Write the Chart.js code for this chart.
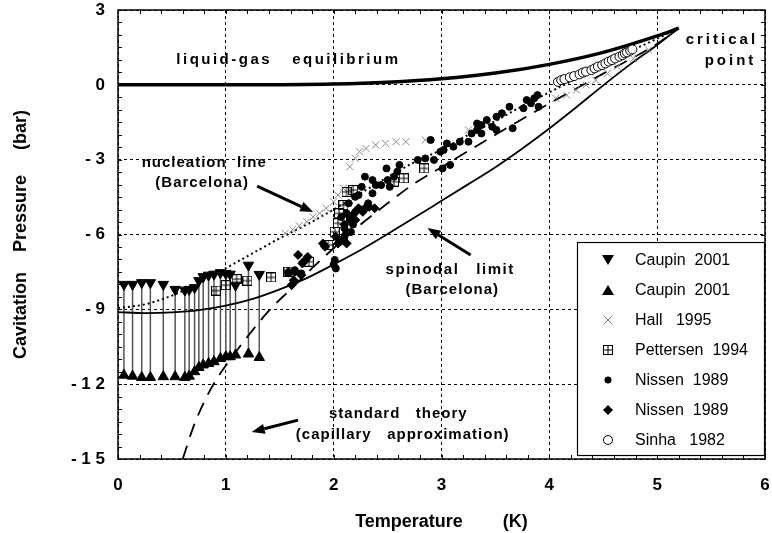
<!DOCTYPE html>
<html>
<head>
<meta charset="utf-8">
<script src="https://cdn.jsdelivr.net/npm/chart.js@4.4.0/dist/chart.umd.min.js"></script>
<style>
  html, body { margin: 0; padding: 0; background: #fff; }
</style>
</head>
<body>
<canvas id="cavitationChart" width="772" height="533"></canvas>
<script>
// axis ticks
const tempTicks = [0, 1, 2, 3, 4, 5, 6];
const pressTicks = [3, 0, -3, -6, -9, -12, -15];
const pressTickLabels = ['3', '0', '- 3', '- 6', '- 9', '- 1 2', '- 1 5'];

// curves
const eqT = [0, 0.5, 1.0, 1.5, 2.0, 2.5, 3.0, 3.5, 4.0, 4.5, 5.0, 5.2];
const eqP = [0, 0, 0.0002, 0.005, 0.031, 0.103, 0.24, 0.47, 0.82, 1.30, 1.96, 2.27];

const spinT = [0, 0.25, 0.5, 0.75, 1.0, 1.25, 1.5, 1.75, 2.0, 2.25, 2.5, 2.75, 3.0, 3.25, 3.5, 3.75, 4.0, 4.25, 4.5, 4.75, 5.0, 5.2];
const spinP = [-9.11, -9.15, -9.12, -9.03, -8.85, -8.58, -8.2, -7.75, -7.2, -6.62, -5.98, -5.32, -4.65, -3.98, -3.3, -2.55, -1.75, -0.9, -0.02, 0.82, 1.6, 2.27];

const nuclT = [0, 0.25, 0.5, 0.75, 1.0, 1.25, 1.5, 1.75, 2.0, 2.25, 2.5, 2.75, 3.0, 3.25, 3.5, 3.75, 4.0, 4.25, 4.5, 4.75, 5.0, 5.2];
const nuclP = [-8.95, -8.8, -8.45, -7.95, -7.35, -6.75, -6.15, -5.6, -5.0, -4.35, -3.7, -3.1, -2.6, -2.0, -1.45, -0.85, -0.3, 0.25, 0.8, 1.35, 1.85, 2.27];

const stdT = [0.6, 0.7, 0.8, 0.9, 1.0, 1.2, 1.4, 1.6, 1.8, 2.0, 2.25, 2.5, 2.75, 3.0, 3.5, 4.0, 4.5, 5.0, 5.2];
const stdP = [-15, -13.7, -12.7, -11.9, -11.25, -10.1, -9.05, -8.2, -7.35, -6.55, -5.6, -4.75, -3.95, -3.3, -2.0, -0.75, 0.45, 1.65, 2.27];

// Caupin 2001: upper (down triangles) and lower (up triangles) for each temperature
const caupinT = [0.055, 0.135, 0.22, 0.3, 0.42, 0.53, 0.62, 0.66, 0.71, 0.75, 0.79, 0.84, 0.89, 0.95, 1.0, 1.04, 1.09, 1.21, 1.31];
const caupinHigh = [-8.0, -8.0, -7.93, -7.93, -8.0, -8.2, -8.23, -8.2, -8.13, -7.85, -7.69, -7.63, -7.59, -7.53, -7.56, -7.59, -8.03, -7.23, -7.6];
const caupinLow = [-11.64, -11.68, -11.73, -11.73, -11.7, -11.7, -11.73, -11.68, -11.5, -11.33, -11.23, -11.17, -11.1, -10.97, -10.9, -10.9, -10.83, -10.79, -10.93];

const hallT = [1.55, 1.62, 1.68, 1.75, 1.81, 1.87, 1.93, 2.0, 2.04, 2.09, 2.15, 2.2, 2.24, 2.3, 2.39, 2.48, 2.58, 2.67, 2.85, 3.25, 4.06, 4.16, 4.25, 4.34, 4.43, 4.54, 4.63, 4.78, 4.92];
const hallP = [-5.95, -5.8, -5.65, -5.49, -5.29, -5.15, -4.95, -4.69, -4.42, -4.15, -3.28, -2.95, -2.68, -2.55, -2.41, -2.35, -2.28, -2.28, -2.21, -1.81, -0.54, -0.41, -0.21, 0.0, 0.19, 0.46, 0.73, 1.05, 1.4];

const pettT = [0.91, 1.0, 1.1, 1.2, 1.42, 1.58, 1.77, 1.95, 2.01, 2.04, 2.05, 2.09, 2.12, 2.18, 2.56, 2.65, 2.84];
const pettP = [-8.25, -8.03, -7.79, -7.85, -7.72, -7.49, -7.09, -6.42, -5.89, -5.55, -5.15, -4.82, -4.29, -4.22, -3.88, -3.75, -3.35];

const nissenCircT = [1.58, 1.64, 1.7, 2.0, 2.01, 2.02, 2.1, 2.1, 2.15, 2.12, 2.14, 2.2, 2.23, 2.32, 2.36, 2.39, 2.44, 2.29, 2.5, 2.52, 2.56, 2.49, 2.59, 2.61, 2.78, 2.85, 2.9, 2.93, 2.99, 3.01, 3.02, 3.05, 3.08, 3.11, 3.17, 3.25, 3.28, 3.33, 3.37, 3.37, 3.33, 3.42, 3.47, 3.51, 3.51, 3.56, 3.63, 3.66, 3.76, 3.79, 3.83, 3.86, 3.89, 3.9, 2.26, 2.36, 2.07, 2.16, 2.18, 2.2, 2.25];
const nissenCircP = [-7.56, -7.43, -7.56, -7.2, -7.02, -7.36, -6.09, -5.75, -5.42, -5.15, -4.75, -4.49, -4.42, -4.75, -4.35, -4.02, -4.02, -3.68, -3.82, -4.09, -3.68, -3.35, -3.48, -3.21, -3.01, -2.95, -2.21, -3.01, -2.68, -3.35, -2.61, -2.35, -3.21, -2.48, -2.28, -2.28, -1.95, -1.81, -1.61, -1.95, -1.55, -1.41, -1.68, -1.28, -1.81, -1.14, -0.88, -1.74, -0.94, -0.61, -0.74, -0.54, -0.41, -0.88, -4.09, -3.82, -5.3, -5.9, -5.6, -5.1, -5.0];

const nissenDiaT = [1.58, 1.61, 1.63, 1.64, 1.67, 1.7, 1.71, 1.74, 1.72, 1.76, 1.9, 1.92, 2.02, 2.04, 2.07, 2.09, 2.12, 2.12, 2.2, 2.23, 2.27, 2.29, 2.33, 2.38, 2.14, 2.18, 2.1];
const nissenDiaP = [-7.49, -8.03, -7.83, -7.49, -6.82, -7.63, -7.16, -7.02, -7.09, -6.9, -6.36, -6.49, -6.09, -6.36, -6.25, -6.22, -6.36, -5.95, -5.42, -4.95, -5.09, -4.95, -4.89, -4.95, -5.25, -5.2, -5.6];

const sinhaT = [4.08, 4.11, 4.14, 4.19, 4.23, 4.28, 4.31, 4.34, 4.39, 4.42, 4.45, 4.49, 4.52, 4.55, 4.58, 4.61, 4.65, 4.68, 4.70, 4.72, 4.75, 4.77];
const sinhaP = [0.12, 0.19, 0.23, 0.30, 0.35, 0.42, 0.49, 0.53, 0.59, 0.66, 0.73, 0.79, 0.86, 0.93, 0.99, 1.06, 1.13, 1.19, 1.26, 1.30, 1.37, 1.42];

const legendLabels = ['Caupin  2001', 'Caupin  2001', 'Hall   1995', 'Pettersen  1994', 'Nissen  1989', 'Nissen  1989', 'Sinha   1982'];

function pts(xs, ys) {
    return xs.map((x, i) => ({ x: x, y: ys[i] }));
}

// square with a cross inside, for Pettersen
function makeBoxCross(size) {
    const c = document.createElement('canvas');
    c.width = size; c.height = size;
    const g = c.getContext('2d');
    g.strokeStyle = '#000';
    g.lineWidth = 1;
    g.strokeRect(0.5, 0.5, size - 1, size - 1);
    g.beginPath();
    g.moveTo(size / 2, 0); g.lineTo(size / 2, size);
    g.moveTo(0, size / 2); g.lineTo(size, size / 2);
    g.stroke();
    return c;
}
const boxCross = makeBoxCross(10);

const FONT = "'Liberation Sans', Arial, sans-serif";

function drawSymbol(ctx, kind, x, y) {
    ctx.save();
    ctx.fillStyle = '#000';
    ctx.strokeStyle = '#000';
    ctx.lineWidth = 1;
    ctx.beginPath();
    if (kind === 'down') {
        ctx.moveTo(x - 6, y - 5); ctx.lineTo(x + 6, y - 5); ctx.lineTo(x, y + 5); ctx.closePath(); ctx.fill();
    } else if (kind === 'up') {
        ctx.moveTo(x - 6, y + 5); ctx.lineTo(x + 6, y + 5); ctx.lineTo(x, y - 5); ctx.closePath(); ctx.fill();
    } else if (kind === 'cross') {
        ctx.strokeStyle = '#777';
        ctx.moveTo(x - 4, y - 4); ctx.lineTo(x + 4, y + 4);
        ctx.moveTo(x + 4, y - 4); ctx.lineTo(x - 4, y + 4); ctx.stroke();
    } else if (kind === 'box') {
        ctx.drawImage(boxCross, x - 5, y - 5);
    } else if (kind === 'dot') {
        ctx.arc(x, y, 3.5, 0, Math.PI * 2); ctx.fill();
    } else if (kind === 'diamond') {
        ctx.moveTo(x, y - 5); ctx.lineTo(x + 5, y); ctx.lineTo(x, y + 5); ctx.lineTo(x - 5, y); ctx.closePath(); ctx.fill();
    } else if (kind === 'ring') {
        ctx.arc(x, y, 4.5, 0, Math.PI * 2); ctx.stroke();
    }
    ctx.restore();
}

function arrow(ctx, x1, y1, x2, y2) {
    const a = Math.atan2(y2 - y1, x2 - x1);
    const hl = 13, hw = 5;
    const bx = x2 - hl * Math.cos(a), by = y2 - hl * Math.sin(a);
    ctx.beginPath();
    ctx.moveTo(x1, y1); ctx.lineTo(bx, by);
    ctx.lineWidth = 3; ctx.strokeStyle = '#000'; ctx.stroke();
    ctx.beginPath();
    ctx.moveTo(x2, y2);
    ctx.lineTo(bx + hw * Math.sin(a), by - hw * Math.cos(a));
    ctx.lineTo(bx - hw * Math.sin(a), by + hw * Math.cos(a));
    ctx.closePath(); ctx.fillStyle = '#000'; ctx.fill();
}

const overlay = {
    id: 'overlay',
    beforeDatasetsDraw(chart) {
        const { ctx, scales: { x, y } } = chart;
        ctx.save();
        ctx.strokeStyle = '#555';
        ctx.lineWidth = 1.5;
        caupinT.forEach((t, i) => {
            const px = x.getPixelForValue(t);
            ctx.beginPath();
            ctx.moveTo(px, y.getPixelForValue(caupinHigh[i]));
            ctx.lineTo(px, y.getPixelForValue(caupinLow[i]));
            ctx.stroke();
        });
        ctx.restore();
    },
    afterDraw(chart) {
        const { ctx, chartArea: a, scales: { x, y } } = chart;
        ctx.save();
        // frame
        ctx.strokeStyle = '#000';
        ctx.lineWidth = 1.5;
        ctx.strokeRect(a.left, a.top, a.right - a.left, a.bottom - a.top);
        // inner minor ticks
        ctx.lineWidth = 1;
        ctx.beginPath();
        for (let k = 0; k <= 36; k++) {
            const py = Math.round(y.getPixelForValue(-15 + k * 0.5)) + 0.5;
            ctx.moveTo(a.left, py); ctx.lineTo(a.left + 4, py);
            ctx.moveTo(a.right, py); ctx.lineTo(a.right - 4, py);
        }
        for (let k = 0; k <= 30; k++) {
            const px = Math.round(x.getPixelForValue(k * 0.2)) + 0.5;
            ctx.moveTo(px, a.bottom); ctx.lineTo(px, a.bottom - 4);
            ctx.moveTo(px, a.top); ctx.lineTo(px, a.top + 4);
        }
        ctx.stroke();

        // annotations
        ctx.fillStyle = '#000';
        ctx.textAlign = 'center';
        ctx.textBaseline = 'middle';
        ctx.font = 'bold 15px ' + FONT;
        const txt = (s, t, p) => ctx.fillText(s, x.getPixelForValue(t), y.getPixelForValue(p));
        ctx.letterSpacing = '2.5px';
        txt('liquid-gas   equilibrium', 1.58, 0.99);
        ctx.letterSpacing = '1px';
        txt('nucleation  line', 0.8, -3.13);
        txt('(Barcelona)', 0.78, -3.94);
        ctx.letterSpacing = '1.5px';
        txt('spinodal   limit', 3.08, -7.43);
        ctx.letterSpacing = '1px';
        txt('(Barcelona)', 3.1, -8.23);
        txt('standard   theory', 2.6, -13.2);
        txt('(capillary   approximation)', 2.64, -14.04);
        ctx.letterSpacing = '3px';
        txt('critical', 5.6, 1.8);
        txt('point', 5.68, 0.95);
        ctx.letterSpacing = '0px';

        const arr = (t1, p1, t2, p2) => arrow(ctx, x.getPixelForValue(t1), y.getPixelForValue(p1), x.getPixelForValue(t2), y.getPixelForValue(p2));
        arr(1.29, -4.06, 1.81, -5.1);
        arr(3.27, -6.82, 2.87, -5.74);
        arr(1.67, -13.44, 1.24, -13.92);

        // legend box
        const lx = 577, ly = 242, lw = 187, lh = 213;
        ctx.fillStyle = '#fff';
        ctx.fillRect(lx, ly, lw, lh);
        ctx.strokeStyle = '#000';
        ctx.lineWidth = 1.2;
        ctx.strokeRect(lx + 0.5, ly + 0.5, lw, lh);
        const kinds = ['down', 'up', 'cross', 'box', 'dot', 'diamond', 'ring'];
        ctx.font = '16px ' + FONT;
        ctx.textAlign = 'left';
        ctx.fillStyle = '#000';
        legendLabels.forEach((lab, i) => {
            const ry = ly + 18 + i * 30;
            drawSymbol(ctx, kinds[i], lx + 31, ry);
            ctx.fillStyle = '#000';
            ctx.fillText(lab, lx + 58, ry + 1);
        });
        ctx.restore();
    }
};

const lineDs = (data, width, dash, order) => ({
    data: data, showLine: true, pointRadius: 0, borderColor: '#000', borderWidth: width,
    borderDash: dash, cubicInterpolationMode: 'monotone', fill: false, order: order
});

// keep the plot frame at fixed pixel edges (no extra room for edge labels)
const noEdgePad = (s) => { s.paddingTop = 0; s.paddingBottom = 0; s.paddingLeft = 0; s.paddingRight = 0; };

new Chart(document.getElementById('cavitationChart').getContext('2d'), {
    type: 'scatter',
    data: {
        datasets: [
            lineDs(pts(eqT, eqP), 3.5, [], 20),
            lineDs(pts(spinT, spinP), 1.8, [], 21),
            lineDs(pts(nuclT, nuclP), 2, [2, 3], 22),
            lineDs(pts(stdT, stdP), 1.8, [14, 9], 23),
            { label: 'Caupin 2001', data: pts(caupinT, caupinHigh), pointStyle: 'triangle', rotation: 180, pointRadius: 6, backgroundColor: '#000', borderColor: '#000', order: 1 },
            { label: 'Caupin 2001', data: pts(caupinT, caupinLow), pointStyle: 'triangle', pointRadius: 6, backgroundColor: '#000', borderColor: '#000', order: 1 },
            { label: 'Hall 1995', data: pts(hallT, hallP), pointStyle: 'crossRot', pointRadius: 5, borderColor: '#888', borderWidth: 1, order: 5 },
            { label: 'Pettersen 1994', data: pts(pettT, pettP), pointStyle: boxCross, pointRadius: 5, order: 4 },
            { label: 'Nissen 1989', data: pts(nissenCircT, nissenCircP), pointStyle: 'circle', pointRadius: 3.5, backgroundColor: '#000', borderColor: '#000', order: 3 },
            { label: 'Nissen 1989', data: pts(nissenDiaT, nissenDiaP), pointStyle: 'rectRot', pointRadius: 4.5, backgroundColor: '#000', borderColor: '#000', order: 3 },
            { label: 'Sinha 1982', data: pts(sinhaT, sinhaP), pointStyle: 'circle', pointRadius: 4.5, backgroundColor: '#fff', borderColor: '#000', borderWidth: 1, order: 2 }
        ]
    },
    options: {
        responsive: false,
        animation: false,
        devicePixelRatio: 1,
        layout: { padding: { top: 10, right: 2, left: 0, bottom: 0 } },
        plugins: { legend: { display: false }, tooltip: { enabled: false } },
        elements: { point: { hoverRadius: 0 } },
        scales: {
            x: {
                type: 'linear', min: 0, max: 6,
                afterFit: (s) => { s.height = 74; noEdgePad(s); },
                afterBuildTicks: (s) => { s.ticks = tempTicks.map(v => ({ value: v })); },
                ticks: { padding: 16, color: '#000', font: { family: FONT, size: 17, weight: 'bold' } },
                grid: { color: '#000', lineWidth: 1, drawTicks: false },
                border: { display: false, dash: [3, 3] },
                title: { display: true, text: 'Temperature        (K)', color: '#000', padding: { top: 0, bottom: 0 }, font: { family: FONT, size: 18, weight: 'bold' } }
            },
            y: {
                type: 'linear', min: -15, max: 3,
                afterFit: (s) => { s.width = 118; noEdgePad(s); },
                afterBuildTicks: (s) => { s.ticks = pressTicks.map(v => ({ value: v })); },
                ticks: {
                    padding: 13, color: '#000', font: { family: FONT, size: 17, weight: 'bold' },
                    callback: (v) => { const i = pressTicks.indexOf(v); return i >= 0 ? pressTickLabels[i] : ''; }
                },
                grid: { color: '#000', lineWidth: 1, drawTicks: false },
                border: { display: false, dash: [3, 3] },
                title: { display: true, text: 'Cavitation    Pressure     (bar)', color: '#000', padding: { top: 10, bottom: 0 }, font: { family: FONT, size: 18, weight: 'bold' } }
            }
        }
    },
    plugins: [overlay]
});
</script>
</body>
</html>
